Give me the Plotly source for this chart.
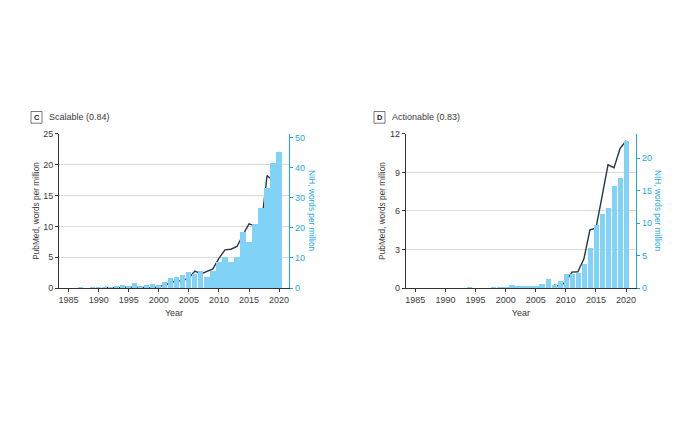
import plotly.graph_objects as go

# ---------------- data ----------------
years_c_bar = list(range(1985, 2021))
nih_scalable = [0, 0, 0.3, 0, 0.2, 0.3, 0.4, 0.5, 0.7, 1.0, 0.7, 1.7, 0.6, 1.0, 1.3, 1.0,
                2.0, 3.2, 3.8, 4.2, 5.3, 4.8, 5.7, 3.6, 5.7, 8.6, 10.3, 8.6, 10.3, 18.8,
                15.3, 21.4, 26.7, 33.4, 41.5, 45.1]
years_c_line = list(range(1991, 2021))
pubmed_scalable = [0.1, 0.05, 0.0, 0.15, 0.15, 0.2, 0.15, 0.05, 0.0, 0.3, 0.4, 0.95, 1.1,
                   1.25, 1.6, 2.75, 2.3, 2.75, 3.1, 4.8, 6.2, 6.3, 6.75, 8.65, 10.4, 10.1,
                   9.8, 18.25, 17.4, 22.1]

years_d_bar = list(range(1985, 2021))
nih_actionable = [0, 0, 0, 0, 0, 0, 0, 0, 0, 0.2, 0, 0, 0, 0.1, 0.2, 0.15,
                  0.45, 0.4, 0.35, 0.35, 0.4, 0.65, 1.4, 0.55, 1.05, 2.2, 2.25, 2.35, 3.7,
                  6.2, 9.8, 11.5, 12.4, 15.7, 16.9, 22.75]
years_d_line = list(range(2008, 2021))
pubmed_actionable = [0.25, 0.13, 0.48, 1.24, 1.27, 2.28, 4.53, 4.66, 7.1, 9.6, 9.37, 10.86, 11.47]

panel_letters = ["C", "D"]
panel_titles = ["Scalable (0.84)", "Actionable (0.83)"]
x_ticks = [1985, 1990, 1995, 2000, 2005, 2010, 2015, 2020]
left_ticks_c = [0, 5, 10, 15, 20, 25]
right_ticks_c = [0, 10, 20, 30, 40, 50]
left_ticks_d = [0, 3, 6, 9, 12]
right_ticks_d = [0, 5, 10, 15, 20]

# ---------------- style ----------------
FONT = "Liberation Sans Narrow, Arial Narrow, Liberation Sans, sans-serif"
BAR = "#80d3f7"
CYAN = "#1ea7dc"
LINE = "#27374a"
TXT = "#3a3a3a"
OFF = 8            # page body margin of the html page
W, H = 680 - 2 * OFF, 422 - 2 * OFF

def px(x):
    return (x - OFF) / W

def py(y):
    return 1 - (y - OFF) / H

y_dom = [py(290), py(132)]
xdom_c = [px(59), px(289)]
xdom_d = [px(405.7), px(636)]

fig = go.Figure()
fig.add_trace(go.Bar(x=years_c_bar, y=nih_scalable, marker=dict(color=BAR, line_width=0),
                     width=0.86, xaxis="x", yaxis="y2", showlegend=False))
fig.add_trace(go.Scatter(x=years_c_line, y=pubmed_scalable, mode="lines",
                         line=dict(color=LINE, width=1.4), xaxis="x", yaxis="y", showlegend=False))
fig.add_trace(go.Bar(x=years_d_bar, y=nih_actionable, marker=dict(color=BAR, line_width=0),
                     width=0.86, xaxis="x2", yaxis="y4", showlegend=False))
fig.add_trace(go.Scatter(x=years_d_line, y=pubmed_actionable, mode="lines",
                         line=dict(color=LINE, width=1.4), xaxis="x2", yaxis="y3", showlegend=False))

tickfont = dict(family=FONT, size=9, color=TXT)
cyanfont = dict(family=FONT, size=9, color=CYAN)
TITLE_SIZE = 8.3

def xaxis(dom, anchor):
    return dict(domain=dom, anchor=anchor, range=[1983.4, 2021.65], tickvals=x_ticks,
                ticks="outside", ticklen=3, tickcolor="#333", showline=True, linecolor="#333",
                linewidth=1, showgrid=False, zeroline=False, tickfont=tickfont,
                title=dict(text="Year", font=dict(family=FONT, size=9, color=TXT), standoff=5))

def yleft(rng, ticks, anchor, title):
    return dict(domain=y_dom, anchor=anchor, range=rng, tickvals=ticks, ticks="outside",
                ticklen=3, tickcolor="#333", showline=True, linecolor="#333", linewidth=1,
                showgrid=True, gridcolor="#d9d9d9", gridwidth=1, zeroline=False,
                tickfont=tickfont,
                title=dict(text=title, font=dict(family=FONT, size=TITLE_SIZE, color=TXT),
                           standoff=2))

def yright(rng, ticks, anchor, overlay):
    return dict(domain=y_dom, anchor=anchor, overlaying=overlay, side="right", range=rng,
                tickvals=ticks, ticks="outside", ticklen=3, tickcolor=CYAN, showline=True,
                linecolor=CYAN, linewidth=1.3, showgrid=False, zeroline=False, tickfont=cyanfont)

fig.update_layout(
    width=W, height=H, margin=dict(l=0, r=0, t=0, b=0),
    paper_bgcolor="white", plot_bgcolor="white", bargap=0,
    xaxis=xaxis(xdom_c, "y"),
    xaxis2=xaxis(xdom_d, "y3"),
    yaxis=yleft([0, 25], left_ticks_c, "x", "PubMed, words per million"),
    yaxis2=yright([0, 51.2], right_ticks_c, "x", "y"),
    yaxis3=yleft([0, 12], left_ticks_d, "x2", "PubMed, words per million"),
    yaxis4=yright([0, 23.76], right_ticks_d, "x2", "y3"),
)

annos = []
shapes = []
box_x = [31, 374]
right_title_x = [312, 658]
for i in range(2):
    bx = box_x[i]
    shapes.append(dict(type="rect", xref="paper", yref="paper",
                       x0=px(bx), x1=px(bx + 11), y0=py(121), y1=py(109),
                       line=dict(color="#555", width=0.8), fillcolor="white"))
    annos.append(dict(text="<b>" + panel_letters[i] + "</b>", x=px(bx + 5.5), y=py(115),
                      xref="paper", yref="paper", showarrow=False, xanchor="center",
                      yanchor="middle", font=dict(family=FONT, size=7.5, color="#222")))
    annos.append(dict(text=panel_titles[i], x=px(bx + 16), y=py(115),
                      xref="paper", yref="paper", showarrow=False, xanchor="left",
                      yanchor="middle", font=dict(family=FONT, size=9, color=TXT)))
    annos.append(dict(text="NIH, words per million", x=px(right_title_x[i]),
                      y=(y_dom[0] + y_dom[1]) / 2, xref="paper", yref="paper",
                      showarrow=False, textangle=90, xanchor="center", yanchor="middle",
                      font=dict(family=FONT, size=TITLE_SIZE, color=CYAN)))
fig.update_layout(annotations=annos, shapes=shapes)

fig.write_html("out.html")
